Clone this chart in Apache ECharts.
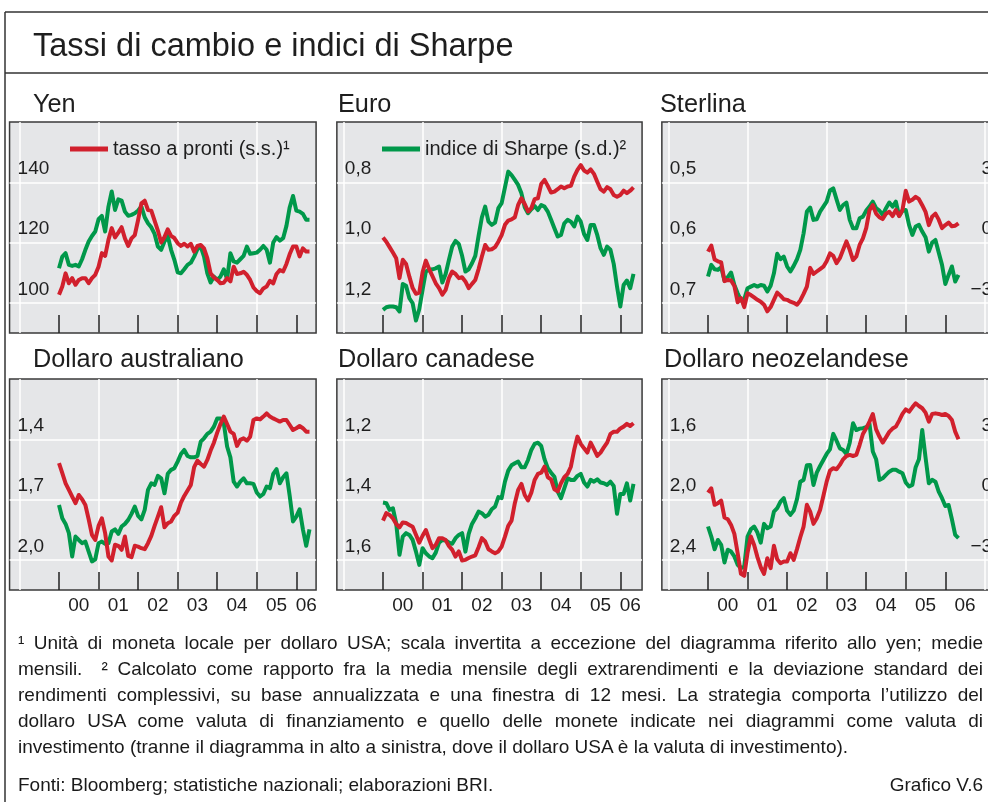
<!DOCTYPE html>
<html>
<head>
<meta charset="utf-8">
<title>Tassi di cambio e indici di Sharpe</title>
<script src="https://cdn.jsdelivr.net/npm/echarts@6/dist/echarts.min.js"></script>
<style>
	html, body { margin: 0; padding: 0; background: #fff; overflow: hidden; }
	#wrap { position: relative; width: 988px; height: 802px; }
	#chart { position: absolute; left: 0; top: 0; width: 988px; height: 802px; }
	#notes { position: absolute; left: 18px; top: 630px; width: 965px; font-family: 'Liberation Sans', Arial, sans-serif; font-size: 19px; line-height: 26px; color: #1a1a1a; }
	#notes .j { text-align: justify; text-align-last: justify; }
	#notes .src { display: flex; justify-content: space-between; margin-top: 12px; }
</style>
</head>
<body>
<div id="wrap">
	<div id="chart"></div>
	<div id="notes">
		<div class="j">¹ Unità di moneta locale per dollaro USA; scala invertita a eccezione del diagramma riferito allo yen; medie</div>
		<div class="j">mensili.&emsp;² Calcolato come rapporto fra la media mensile degli extrarendimenti e la deviazione standard dei</div>
		<div class="j">rendimenti complessivi, su base annualizzata e una finestra di 12 mesi. La strategia comporta l’utilizzo del</div>
		<div class="j">dollaro USA come valuta di finanziamento e quello delle monete indicate nei diagrammi come valuta di</div>
		<div>investimento (tranne il diagramma in alto a sinistra, dove il dollaro USA è la valuta di investimento).</div>
		<div class="src"><span>Fonti: Bloomberg; statistiche nazionali; elaborazioni BRI.</span><span>Grafico V.6</span></div>
	</div>
</div>
<script>
// monthly averages, Jan 2000 .. May 2006 (index 0 = Jan 2000)
var yenSpot = [102.7,105.4,109.8,106.5,108.2,106.0,107.6,108.2,108.2,106.5, 108.2,109.3,112.0,116.5,115.6,120.9,124.8,121.7,123.3,125.1, 121.4,118.9,121.4,122.5,127.5,133.0,133.9,130.8,130.6,127.3, 124.0,120.0,121.8,124.4,122.2,121.5,119.8,118.9,119.6,118.7, 119.6,117.0,118.9,119.2,118.1,114.8,109.8,108.4,107.6,106.5, 106.7,108.2,107.1,112.0,109.6,109.8,110.3,109.3,107.6,105.1, 103.9,103.2,104.8,105.4,107.3,106.5,109.6,110.9,110.4,112.9, 116.2,118.7,118.7,115.4,118.1,117.0,117.0];
var yenSharpe = [-1.28,-0.70,-0.53,-1.11,-1.16,-1.11,-1.19,-0.83,-0.36,0.05, 0.33,0.55,1.16,1.33,0.55,1.79,2.54,1.62,2.15,2.09, 1.54,1.33,1.38,1.46,1.59,1.79,1.26,0.96,0.76,0.43, -0.20,-0.36,0.05,0.33,-0.36,-0.86,-1.48,-1.53,-1.33,-1.11, -1.00,-0.70,-0.33,-0.20,-0.70,-1.53,-1.99,-1.69,-1.86,-1.69, -1.33,-1.82,-0.53,-0.94,-1.00,-0.83,-0.66,-0.20,-0.56,-0.53, -0.50,-0.36,-0.17,-0.36,-1.00,0.00,0.27,0.10,0.22,0.83, 1.76,2.32,1.59,1.54,1.43,1.13,1.13];

var euroSpot = [0.983,0.997,1.015,1.033,1.052,1.118,1.057,1.071,1.113,1.151, 1.170,1.166,1.099,1.060,1.088,1.111,1.135,1.151,1.173,1.157, 1.118,1.096,1.104,1.118,1.115,1.129,1.151,1.137,1.124,1.088, 1.046,1.008,1.024,1.022,1.015,0.997,0.975,0.941,0.927,0.923, 0.916,0.875,0.853,0.872,0.897,0.886,0.856,0.853,0.806,0.792, 0.812,0.834,0.831,0.823,0.814,0.820,0.814,0.812,0.781,0.759, 0.743,0.761,0.768,0.757,0.772,0.798,0.823,0.831,0.816,0.823, 0.842,0.848,0.842,0.828,0.836,0.828,0.817];
var euroSharpe = [-3.35,-3.22,-3.18,-3.18,-3.22,-3.43,-2.06,-2.15,-2.77,-3.02, -3.88,-3.32,-2.35,-1.44,-1.36,-1.33,-1.28,-1.19,-1.99,-1.56, -0.86,-0.20,0.08,-0.07,-0.66,-1.44,-1.33,-1.03,-0.66,0.33, 1.26,1.79,1.04,0.88,0.99,1.71,1.96,2.75,3.53,3.36, 3.12,2.87,2.45,1.76,1.46,1.66,1.82,1.62,1.87,1.79, 1.54,1.13,0.71,0.30,0.38,0.96,1.13,1.04,0.80,1.29, 1.04,0.43,0.13,0.88,0.88,0.38,-0.28,-0.61,-0.20,-0.36, -1.06,-2.19,-3.18,-2.11,-1.89,-2.27,-1.56];

var gbpSpot = [0.615,0.605,0.628,0.631,0.633,0.664,0.662,0.663,0.672,0.699, 0.692,0.707,0.684,0.687,0.691,0.695,0.698,0.703,0.714,0.707, 0.695,0.683,0.688,0.694,0.695,0.698,0.700,0.703,0.696,0.685, 0.673,0.642,0.652,0.648,0.644,0.640,0.631,0.618,0.622,0.634, 0.626,0.612,0.598,0.612,0.629,0.623,0.604,0.593,0.576,0.546, 0.538,0.552,0.558,0.561,0.552,0.549,0.556,0.546,0.556,0.546, 0.514,0.532,0.529,0.524,0.528,0.538,0.549,0.571,0.557,0.552, 0.562,0.576,0.571,0.567,0.573,0.572,0.568];
var gbpSharpe = [-1.69,-1.11,-1.33,-1.36,-1.23,-1.89,-1.72,-1.49,-2.11,-2.52, -2.88,-2.82,-2.27,-2.19,-2.11,-2.19,-2.11,-2.15,-2.44,-2.15, -1.53,-0.56,-0.83,-0.70,-1.19,-1.44,-1.16,-0.83,-0.36,0.46, 1.54,1.74,1.13,1.16,1.54,1.79,2.04,2.59,2.70,2.15, 1.62,1.87,1.99,1.13,0.71,0.71,1.21,1.29,1.59,1.79, 2.04,1.71,1.59,1.38,1.71,1.99,1.79,2.04,1.33,1.59, 1.62,0.88,0.38,0.80,0.88,0.55,0.27,-0.45,0.00,0.13, -0.50,-1.11,-2.06,-1.61,-1.19,-1.94,-1.61];

var audSpot = [1.519,1.569,1.619,1.652,1.685,1.718,1.677,1.698,1.727,1.798, 1.876,1.901,1.831,1.793,1.867,1.983,2.003,1.925,1.930,1.950, 1.884,1.980,1.987,1.930,1.934,1.942,1.947,1.917,1.881,1.831, 1.785,1.738,1.838,1.818,1.809,1.781,1.765,1.715,1.682,1.655, 1.627,1.539,1.506,1.523,1.536,1.503,1.456,1.417,1.367,1.324, 1.287,1.324,1.362,1.373,1.433,1.403,1.395,1.407,1.387,1.304, 1.296,1.301,1.287,1.271,1.287,1.296,1.304,1.312,1.304,1.304, 1.329,1.354,1.345,1.334,1.345,1.362,1.362];
var audSharpe = [-0.27,-0.93,-1.21,-1.67,-2.83,-1.84,-2.01,-2.17,-2.09,-2.59, -3.08,-2.97,-2.17,-2.09,-2.20,-2.17,-1.59,-1.48,-1.71,-1.34, -1.21,-1.01,-0.71,-0.35,-0.81,-0.98,-0.51,0.48,0.81,0.73, 1.18,1.06,0.31,1.28,1.48,1.56,1.89,2.27,2.47,2.17, 2.10,2.10,2.17,2.88,3.05,3.27,3.38,3.63,4.04,4.04, 3.80,2.64,2.10,0.89,0.65,0.89,1.06,0.81,0.81,0.78, 0.35,0.15,0.28,0.65,0.56,1.28,1.51,0.81,1.11,1.31, 0.18,-1.09,-0.85,-0.48,-1.48,-2.30,-1.48];

var cadSpot = [1.470,1.445,1.451,1.462,1.481,1.492,1.476,1.478,1.484,1.490, 1.517,1.543,1.520,1.501,1.532,1.561,1.550,1.528,1.528,1.534, 1.554,1.567,1.589,1.572,1.602,1.600,1.594,1.589,1.585,1.558, 1.528,1.539,1.565,1.572,1.578,1.572,1.556,1.523,1.487,1.470, 1.412,1.368,1.348,1.385,1.403,1.377,1.335,1.315,1.311,1.291, 1.326,1.333,1.366,1.373,1.346,1.326,1.315,1.291,1.235,1.191, 1.215,1.230,1.244,1.211,1.233,1.255,1.244,1.227,1.211,1.182, 1.175,1.175,1.164,1.158,1.149,1.156,1.147];
var cadSharpe = [-0.15,-0.18,-0.51,-0.43,-1.18,-2.75,-1.84,-1.67,-1.76,-2.01, -2.59,-3.25,-2.42,-2.67,-2.83,-2.92,-2.64,-2.14,-2.01,-2.04, -2.14,-2.20,-1.92,-1.76,-1.67,-2.59,-1.71,-1.21,-0.93,-0.60, -0.68,-0.85,-0.76,-0.48,-0.35,0.12,0.07,0.89,1.44,1.71, 1.81,1.89,1.61,1.61,1.97,2.47,2.77,2.83,2.67,2.01, 1.56,1.34,1.14,0.40,0.07,0.56,1.06,0.98,0.98,1.18, 1.28,0.85,0.65,0.98,0.89,1.01,0.85,0.81,0.73,0.89, 0.68,-0.71,0.28,0.28,0.81,-0.05,0.78];

var nzdSpot = [1.954,1.925,2.035,2.024,2.007,2.119,2.130,2.168,2.228,2.356, 2.493,2.506,2.351,2.245,2.301,2.382,2.449,2.493,2.389,2.455, 2.307,2.396,2.422,2.411,2.411,2.356,2.400,2.329,2.250,2.179, 2.035,2.080,2.161,2.124,2.069,1.976,1.881,1.808,1.792,1.799, 1.770,1.733,1.711,1.704,1.711,1.704,1.638,1.565,1.527,1.483, 1.432,1.534,1.582,1.622,1.587,1.551,1.529,1.516,1.476,1.432, 1.401,1.417,1.388,1.361,1.379,1.394,1.423,1.483,1.432,1.428, 1.432,1.439,1.432,1.445,1.472,1.549,1.600];
var nzdSharpe = [-1.34,-1.84,-2.47,-2.01,-2.25,-3.13,-2.50,-2.59,-2.83,-3.25, -3.41,-3.33,-1.84,-1.48,-1.34,-1.64,-2.14,-1.21,-1.43,-1.34, -0.60,-0.43,-0.10,0.07,-0.55,-0.76,-0.55,0.02,0.89,0.98, 1.71,1.72,0.73,1.34,1.67,1.97,2.27,2.50,3.27,2.93, 2.55,2.47,2.27,2.83,3.80,3.46,3.53,3.55,3.60,3.76, 2.39,2.01,0.98,1.06,1.23,1.39,1.48,1.48,1.39,1.31, 0.85,0.65,0.73,1.61,2.01,3.46,2.10,0.81,0.98,0.89, 0.40,0.07,-0.32,-0.27,-0.98,-1.76,-1.92];

// axis labels and ticks (months since Jan 2000)
var yearLabels = ['00', '01', '02', '03', '04', '05', '06'];
var yearTicks = [0, 12, 24, 36, 48, 60, 72];
var yearGridLines = [-12, 12, 36, 60, 84];
var yenTicks = [100, 120, 140];
var euroTicks = [0.8, 1.0, 1.2];
var gbpTicks = [0.5, 0.6, 0.7];
var audTicks = [1.4, 1.7, 2.0];
var cadTicks = [1.2, 1.4, 1.6];
var nzdTicks = [1.6, 2.0, 2.4];
var sharpeTicks = [-3, 0, 3];

var spotName = 'tasso a pronti (s.s.)¹';
var sharpeName = 'indice di Sharpe (s.d.)²';

var panels = [
	{ title: 'Yen', spot: yenSpot, sharpe: yenSharpe, ticks: yenTicks, min: 90, max: 160, inverse: false, dec: 0, row: 0, col: 0 },
	{ title: 'Euro', spot: euroSpot, sharpe: euroSharpe, ticks: euroTicks, min: 0.6, max: 1.3, inverse: true, dec: 1, row: 0, col: 1 },
	{ title: 'Sterlina', spot: gbpSpot, sharpe: gbpSharpe, ticks: gbpTicks, min: 0.4, max: 0.75, inverse: true, dec: 1, row: 0, col: 2 },
	{ title: 'Dollaro australiano', spot: audSpot, sharpe: audSharpe, ticks: audTicks, min: 1.1, max: 2.15, inverse: true, dec: 1, row: 1, col: 0 },
	{ title: 'Dollaro canadese', spot: cadSpot, sharpe: cadSharpe, ticks: cadTicks, min: 1.0, max: 1.7, inverse: true, dec: 1, row: 1, col: 1 },
	{ title: 'Dollaro neozelandese', spot: nzdSpot, sharpe: nzdSharpe, ticks: nzdTicks, min: 1.2, max: 2.6, inverse: true, dec: 1, row: 1, col: 2 }
];

// layout
var font = "'Liberation Sans', Arial, sans-serif";
var textColor = '#1e1e1e';
var red = '#d1202d';
var green = '#00984a';
var pxPerMonth = 3.296;
var jan2000X = [59, 383, 708];
var colMinMonth = [-15, -14, -14];
var colMaxMonth = [78, 78.6, 88];
var rowTop = [122, 379];
var plotHeight = 211;
var titleLeft = [[33, 338, 660], [33, 338, 664]];
var titleTop = [93, 348];

function fmt(dec) {
	return function (v) {
		return dec === 0 ? String(Math.round(v)) : v.toFixed(dec).replace('.', ',');
	};
}

var grids = [], xAxes = [], yAxes = [], series = [], titles = [];

titles.push({
	text: 'Tassi di cambio e indici di Sharpe', left: 33, top: 31, padding: 0,
	textStyle: { fontFamily: font, fontSize: 32.5, fontWeight: 'normal', color: textColor }
});

panels.forEach(function (p, i) {
	var left = jan2000X[p.col] + colMinMonth[p.col] * pxPerMonth;
	var width = (colMaxMonth[p.col] - colMinMonth[p.col]) * pxPerMonth;
	var labelPos = yearTicks.map(function (t) { return t + 6; });
	if (p.col < 2) {
		// last (partial) year label pulled inside the box
		labelPos[labelPos.length - 1] = 75;
	}

	titles.push({
		text: p.title, left: titleLeft[p.row][p.col], top: titleTop[p.row], padding: 0,
		textStyle: { fontFamily: font, fontSize: 25.3, fontWeight: 'normal', color: textColor }
	});

	grids.push({
		left: left, top: rowTop[p.row], width: width, height: plotHeight,
		outerBoundsMode: 'none',
		show: true, backgroundColor: '#e5e6e8', borderColor: '#3a3a3a', borderWidth: 1.5
	});

	// x axis carrying the data, the black year ticks and the year labels
	xAxes.push({
		type: 'value', gridIndex: i, position: 'bottom',
		min: colMinMonth[p.col], max: colMaxMonth[p.col],
		axisLine: { show: false, onZero: false },
		axisTick: { show: true, inside: true, length: 18, customValues: yearTicks, lineStyle: { color: '#222', width: 1.5 } },
		axisLabel: {
			show: p.row === 1, customValues: labelPos, margin: 6,
			fontFamily: font, fontSize: 19, color: textColor,
			formatter: function (v) { return yearLabels[labelPos.indexOf(v)]; }
		},
		splitLine: { show: false }
	});
	// second x axis only for the white grid lines (odd years)
	xAxes.push({
		type: 'value', gridIndex: i, position: 'bottom',
		min: colMinMonth[p.col], max: colMaxMonth[p.col],
		axisLine: { show: false, onZero: false },
		axisTick: { show: false, customValues: yearGridLines },
		axisLabel: { show: false },
		splitLine: { show: true, lineStyle: { width: 1.5, color: '#ffffff' } }
	});

	yAxes.push({
		type: 'value', gridIndex: i, position: 'left',
		min: p.min, max: p.max, inverse: p.inverse,
		axisLine: { show: false, onZero: false },
		axisTick: { show: false, customValues: p.ticks },
		axisLabel: {
			inside: true, customValues: p.ticks, formatter: fmt(p.dec), margin: 8,
			verticalAlign: 'bottom', padding: [0, 0, 4, 0],
			fontFamily: font, fontSize: 19, color: textColor
		},
		splitLine: { show: true, lineStyle: { width: 1.5, color: '#ffffff' } }
	});

	yAxes.push({
		type: 'value', gridIndex: i, position: 'right',
		min: -4.5, max: 6,
		axisLine: { show: false, onZero: false },
		axisTick: { show: false, customValues: sharpeTicks },
		splitLine: { show: false },
		axisLabel: {
			show: p.col === 2, inside: true, customValues: sharpeTicks, margin: 6,
			verticalAlign: 'bottom', padding: [0, 0, 4, 0],
			fontFamily: font, fontSize: 19, color: textColor,
			formatter: function (v) { return v < 0 ? '−' + Math.abs(v) : String(v); }
		}
	});

	series.push({
		name: sharpeName, type: 'line', xAxisIndex: 2 * i, yAxisIndex: 2 * i + 1,
		data: p.sharpe.map(function (v, k) { return [k, v]; }),
		showSymbol: false, symbol: 'none', color: green,
		lineStyle: { width: 4, color: green, join: 'round' }, animation: false, silent: true
	});
	series.push({
		name: spotName, type: 'line', xAxisIndex: 2 * i, yAxisIndex: 2 * i,
		data: p.spot.map(function (v, k) { return [k, v]; }),
		showSymbol: false, symbol: 'none', color: red,
		lineStyle: { width: 4, color: red, join: 'round' }, animation: false, silent: true
	});
});

var legendBase = {
	icon: 'rect', itemWidth: 38, itemHeight: 5, padding: 0, selectedMode: false,
	textStyle: { fontFamily: font, fontSize: 20, color: textColor }
};

var chart = echarts.init(document.getElementById('chart'));
chart.setOption({
	animation: false,
	backgroundColor: 'transparent',
	title: titles,
	legend: [
		Object.assign({ data: [spotName], left: 70, top: 139 }, legendBase),
		Object.assign({ data: [sharpeName], left: 382, top: 139 }, legendBase)
	],
	grid: grids,
	xAxis: xAxes,
	yAxis: yAxes,
	series: series,
	graphic: [
		{ type: 'line', shape: { x1: 5, y1: 12, x2: 988, y2: 12 }, style: { stroke: '#333', lineWidth: 1.5 } },
		{ type: 'line', shape: { x1: 5, y1: 73, x2: 988, y2: 73 }, style: { stroke: '#333', lineWidth: 1.5 } },
		{ type: 'line', shape: { x1: 5, y1: 12, x2: 5, y2: 802 }, style: { stroke: '#333', lineWidth: 1.5 } }
	]
});
</script>
</body>
</html>
